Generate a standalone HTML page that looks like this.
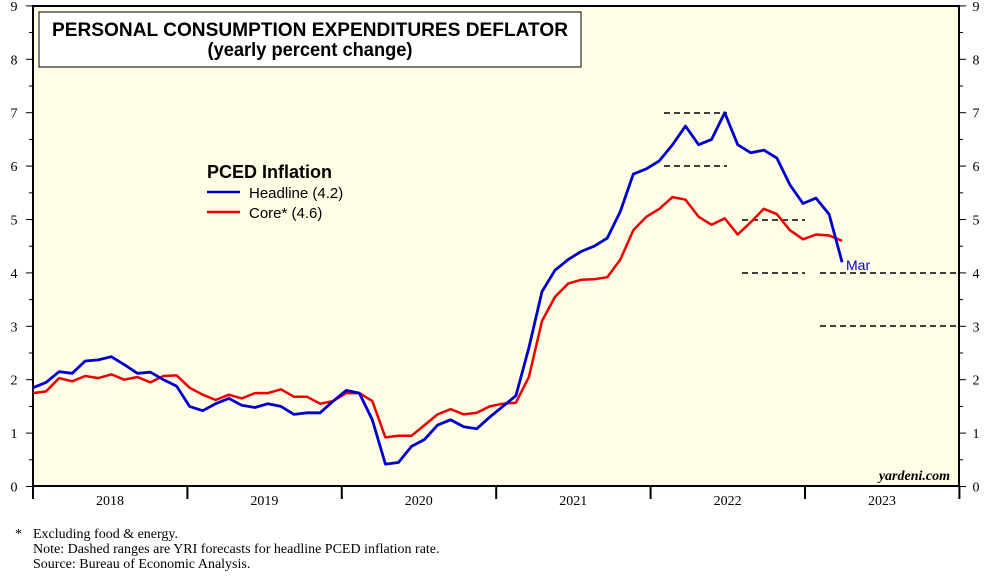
<!DOCTYPE html>
<html><head><meta charset="utf-8"><style>
html,body{margin:0;padding:0;background:#fff;}
body{width:1000px;height:577px;overflow:hidden;position:relative;font-family:"Liberation Sans",sans-serif;}
.foot{position:absolute;font-family:"Liberation Serif",serif;font-size:14px;line-height:15px;color:#000;}
</style></head><body>
<svg id="s" width="1000" height="577" style="position:absolute;left:0;top:0">
<rect x="33" y="6" width="926" height="480" fill="#fffde6" stroke="#000" stroke-width="2"/>
<g id="ax" stroke="#000" stroke-width="1"></g>
<g id="lab" font-family="Liberation Serif, serif" font-size="14" fill="#000"></g>
<rect x="39" y="12" width="542" height="55" fill="#fff" stroke="#000" stroke-width="1"/>
<text x="310" y="36" text-anchor="middle" font-weight="bold" font-size="19" textLength="516" lengthAdjust="spacingAndGlyphs" font-family="Liberation Sans, sans-serif">PERSONAL CONSUMPTION EXPENDITURES DEFLATOR</text>
<text x="310" y="56" text-anchor="middle" font-weight="bold" font-size="19" textLength="205" lengthAdjust="spacingAndGlyphs" font-family="Liberation Sans, sans-serif">(yearly percent change)</text>
<text x="207" y="178" font-weight="bold" font-size="18" font-family="Liberation Sans, sans-serif">PCED Inflation</text>
<line x1="207" y1="192" x2="240" y2="192" stroke="#0000cc" stroke-width="2.5"/>
<text x="249" y="198" font-size="15" font-family="Liberation Sans, sans-serif">Headline (4.2)</text>
<line x1="207" y1="212" x2="240" y2="212" stroke="#e00" stroke-width="2.5"/>
<text x="249" y="218" font-size="15" font-family="Liberation Sans, sans-serif">Core* (4.6)</text>
<g stroke="#000" stroke-width="1.6" stroke-dasharray="6,4">
<line x1="664" y1="113" x2="727" y2="113"/>
<line x1="664" y1="166" x2="727" y2="166"/>
<line x1="742" y1="220" x2="805" y2="220"/>
<line x1="742" y1="273" x2="805" y2="273"/>
<line x1="820" y1="273" x2="958" y2="273"/>
<line x1="820" y1="326" x2="958" y2="326"/>
</g>
<polyline id="core" fill="none" stroke="#e00" stroke-width="2.5" stroke-linejoin="round"/>
<polyline id="head" fill="none" stroke="#0000cc" stroke-width="2.8" stroke-linejoin="round"/>
<text x="846" y="270" font-size="14" fill="#0000cc" font-family="Liberation Sans, sans-serif">Mar</text>
<text x="950" y="480" text-anchor="end" font-size="14" font-weight="bold" font-style="italic" font-family="Liberation Serif, serif">yardeni.com</text>
</svg>
<div class="foot" style="left:15px;top:527px">*</div>
<div class="foot" style="left:33px;top:527px">Excluding food &amp; energy.<br>Note: Dashed ranges are YRI forecasts for headline PCED inflation rate.<br>Source: Bureau of Economic Analysis.</div>
<script>
var ns="http://www.w3.org/2000/svg";
function Y(v){return 486.5-v*53.4;}
function X(i){return 33+13.05*i;}
var ax=document.getElementById("ax"),lab=document.getElementById("lab");
function el(p,t,a){var e=document.createElementNS(ns,t);for(var k in a)e.setAttribute(k,a[k]);p.appendChild(e);return e;}
for(var h=0;h<=18;h++){var v=h/2,y=Y(v),L=(h%2==0)?7:4;
el(ax,"line",{x1:33-L,y1:y,x2:33,y2:y});el(ax,"line",{x1:959,y1:y,x2:959+L,y2:y});
if(h%2==0){var t=el(lab,"text",{x:14,y:y+5,"text-anchor":"middle"});t.textContent=v;
t=el(lab,"text",{x:976,y:y+5,"text-anchor":"middle"});t.textContent=v;}}
var yrs=["2018","2019","2020","2021","2022","2023"];
for(var j=0;j<=6;j++){var x=33+154.4*j;el(ax,"line",{x1:x,y1:486,x2:x,y2:499,"stroke-width":2});
if(j<6){var t=el(lab,"text",{x:x+77,y:505,"text-anchor":"middle"});t.textContent=yrs[j];}}
var H=[1.87,1.85,1.95,2.15,2.12,2.35,2.37,2.43,2.28,2.12,2.14,2.0,
1.88,1.5,1.42,1.55,1.65,1.52,1.48,1.55,1.50,1.35,1.38,1.38,
1.6,1.8,1.75,1.25,0.42,0.45,0.75,0.88,1.15,1.25,1.12,1.08,
1.3,1.5,1.7,2.6,3.65,4.05,4.25,4.4,4.5,4.65,5.15,5.85,
5.95,6.1,6.4,6.75,6.4,6.5,7.0,6.4,6.25,6.3,6.15,5.65,
5.3,5.4,5.1,4.2];
var C=[1.7,1.75,1.78,2.03,1.97,2.07,2.03,2.1,2.0,2.05,1.95,2.07,
2.08,1.85,1.72,1.62,1.72,1.65,1.75,1.75,1.82,1.68,1.68,1.55,
1.6,1.75,1.75,1.6,0.92,0.95,0.95,1.15,1.35,1.45,1.35,1.38,
1.5,1.55,1.57,2.05,3.1,3.55,3.8,3.87,3.88,3.92,4.25,4.8,
5.05,5.2,5.42,5.37,5.05,4.9,5.02,4.72,4.95,5.2,5.1,4.8,
4.63,4.72,4.7,4.6];
H=H.slice(-63);C=C.slice(-63);
function pts(a){return a.map(function(v,i){return X(i).toFixed(1)+","+Y(v).toFixed(1);}).join(" ");}
document.getElementById("head").setAttribute("points",pts(H));
document.getElementById("core").setAttribute("points",pts(C));
</script>
</body></html>
